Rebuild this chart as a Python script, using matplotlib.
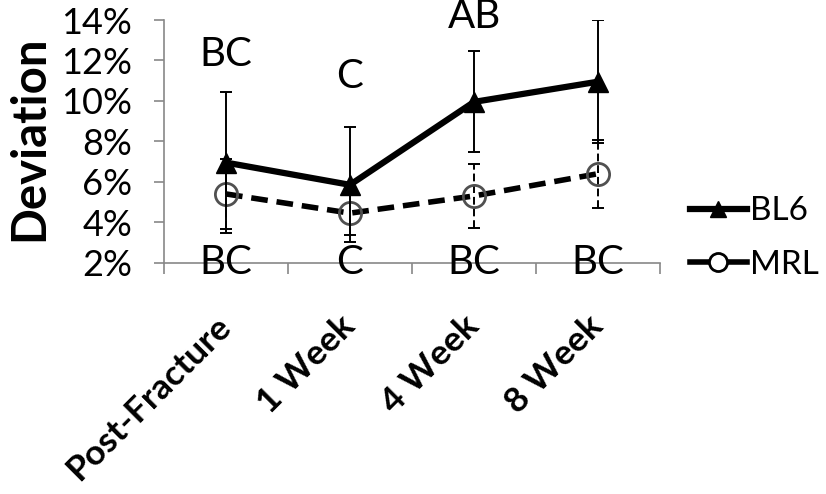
import matplotlib
matplotlib.use("Agg")
import matplotlib.pyplot as plt
from matplotlib.ticker import FixedLocator, FuncFormatter
from matplotlib.lines import Line2D

plt.rcParams['font.family'] = ['Lato', 'DejaVu Sans']

categories = ["Post-Fracture", "1 Week", "4 Week", "8 Week"]
bl6 = [6.95, 5.85, 9.95, 10.95]
bl6_err = [3.5, 2.85, 2.5, 3.05]
mrl = [5.4, 4.45, 5.3, 6.4]
mrl_err = [1.75, 1.1, 1.6, 1.68]
top_letters = ["BC", "C", "AB", ""]
top_letter_y = [12.3, 11.2, 14.15, 0]
bottom_letters = ["BC", "C", "BC", "BC"]
y_ticks = [2, 4, 6, 8, 10, 12, 14]

fig = plt.figure(figsize=(8.26, 4.94), dpi=100)
ax = fig.add_axes([164/826, 1-262.7/494, 496/826, 242.7/494])

x = list(range(len(categories)))

# MRL
eb2 = ax.errorbar(x, mrl, yerr=mrl_err, fmt='none', ecolor='black', elinewidth=1.4,
                  capsize=4, capthick=1.4, zorder=2)
for lc in eb2[2]:
    lc.set_linestyle((0, (4, 2)))
ax.plot(x, mrl, color='black', lw=4, ls=(0, (3, 1.6)), marker='o', ms=16,
        mfc='none', mec='#505050', mew=2, zorder=3)

# BL6
ax.errorbar(x, bl6, yerr=bl6_err, fmt='none', ecolor='black', elinewidth=1.4,
            capsize=4, capthick=1.4, zorder=4)
ax.plot(x, bl6, color='black', lw=4.5, marker='^', ms=15, mfc='black', mec='black',
        zorder=5)

ax.set_xlim(-0.5, 3.5)
ax.set_ylim(2, 14)
ax.yaxis.set_major_locator(FixedLocator(y_ticks))
ax.yaxis.set_major_formatter(FuncFormatter(lambda v, p: f"{v:.0f}%"))
ax.set_xticks([-0.5, 0.5, 1.5, 2.5, 3.5])
ax.set_xticklabels([])
ax.set_xticks(x, minor=True)
ax.set_xticklabels(categories, minor=True, rotation=45, ha='right', va='center',
                   rotation_mode='anchor', fontweight='bold', fontsize=25.5)
ax.tick_params(axis='x', which='minor', length=0, pad=42)
ax.tick_params(axis='x', which='major', length=8, width=1.2, color='#888888', direction='out')
ax.tick_params(axis='y', length=7, width=1.2, color='#888888', labelsize=26, pad=16)

for s in ['top', 'right']:
    ax.spines[s].set_visible(False)
for s in ['left', 'bottom']:
    ax.spines[s].set_color('#888888')
    ax.spines[s].set_linewidth(1.2)

for xi, t, ty in zip(x, top_letters, top_letter_y):
    if t:
        ax.text(xi, ty, t, ha='center', va='center', fontsize=29, clip_on=False)
for xi, t in zip(x, bottom_letters):
    ax.text(xi, 2.0, t, ha='center', va='center', fontsize=29, clip_on=False, zorder=6)

fig.text(29/826, 1-138/494, "Deviation", rotation=90, ha='center', va='center',
         fontsize=34, fontweight='bold')

handles = [
    Line2D([], [], color='black', lw=4.5, marker='^', ms=12, mfc='black', mec='black'),
    Line2D([], [], color='black', lw=4, marker='o', ms=13, mfc='white', mec='black', mew=2),
]
fig.legend(handles, ["BL6", "MRL"], loc='center left', bbox_to_anchor=(690/826, 1-238/494),
           frameon=False, fontsize=24, handlelength=1.7, handletextpad=0.1,
           labelspacing=0.7, borderaxespad=0, borderpad=0)

fig.savefig("out.png", dpi=100)
